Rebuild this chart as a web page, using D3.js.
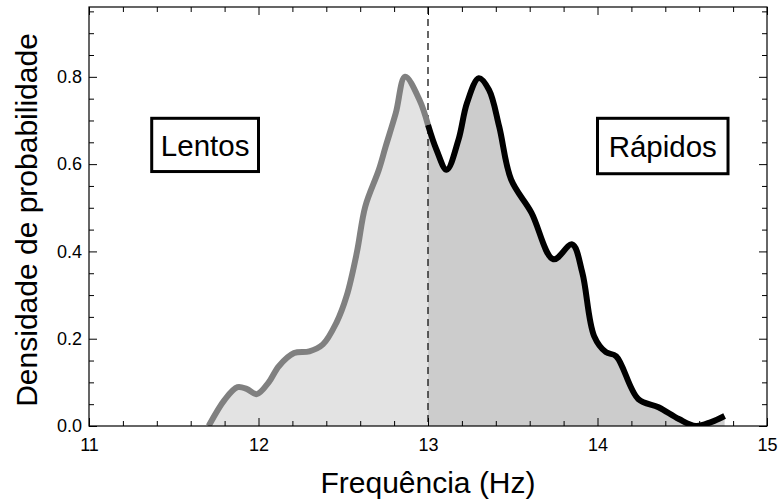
<!DOCTYPE html>
<html>
<head>
<meta charset="utf-8">
<script src="https://cdnjs.cloudflare.com/ajax/libs/d3/7.8.5/d3.min.js"></script>
<style>
  body { margin: 0; background: #fff; }
  svg { display: block; font-family: "Liberation Sans", Arial, sans-serif; }
</style>
</head>
<body>
<div id="chart"></div>
<script>
// density estimate, slow part (up to the 13 Hz cut)
const freqLentos = [11.706, 11.80, 11.876, 11.93, 11.99, 12.06, 12.12, 12.21, 12.30, 12.38, 12.46, 12.52, 12.58, 12.63, 12.71, 12.75, 12.81, 12.865, 12.95, 13.0];
const densLentos = [0.0, 0.060, 0.089, 0.085, 0.073, 0.100, 0.137, 0.167, 0.171, 0.187, 0.237, 0.298, 0.397, 0.503, 0.587, 0.640, 0.717, 0.800, 0.747, 0.690];

// fast part (from 13 Hz on)
const freqRapidos = [13.0, 13.05, 13.11, 13.18, 13.23, 13.30, 13.36, 13.42, 13.49, 13.61, 13.74, 13.85, 13.91, 13.98, 14.05, 14.11, 14.24, 14.36, 14.48, 14.58, 14.67, 14.75];
const densRapidos = [0.690, 0.633, 0.587, 0.656, 0.740, 0.797, 0.770, 0.686, 0.565, 0.489, 0.382, 0.416, 0.352, 0.206, 0.169, 0.160, 0.062, 0.043, 0.016, 0.0, 0.009, 0.023];

const xTicks = [11, 12, 13, 14, 15];
const yTicks = [0.0, 0.2, 0.4, 0.6, 0.8];
const cutFreq = 13;

const W = 778, H = 502;
const margin = { top: 7, right: 11, bottom: 76, left: 89 };
const width = W - margin.left - margin.right;
const height = H - margin.top - margin.bottom;

const svg = d3.select('#chart').append('svg')
  .attr('width', W)
  .attr('height', H);

const g = svg.append('g')
  .attr('transform', `translate(${margin.left},${margin.top})`);

const x = d3.scaleLinear().domain([11, 15]).range([0, width]);
const y = d3.scaleLinear().domain([0, 0.96]).range([height, 0]);

g.append('clipPath').attr('id', 'plot-clip')
  .append('rect').attr('width', width).attr('height', height);

const lentos = freqLentos.map((f, i) => ({ f, d: densLentos[i] }));
const rapidos = freqRapidos.map((f, i) => ({ f, d: densRapidos[i] }));

const curve = d3.curveCatmullRom.alpha(0.5);
const area = d3.area().x(p => x(p.f)).y0(y(0)).y1(p => y(p.d)).curve(curve);
const line = d3.line().x(p => x(p.f)).y(p => y(p.d)).curve(curve);

const plot = g.append('g').attr('clip-path', 'url(#plot-clip)');

plot.append('path').datum(lentos).attr('d', area).style('fill', '#e3e3e3');
plot.append('path').datum(rapidos).attr('d', area).style('fill', '#cccccc');

// dashed cut line
plot.append('line')
  .attr('x1', x(cutFreq)).attr('x2', x(cutFreq))
  .attr('y1', 0).attr('y2', height)
  .style('stroke', '#000')
  .style('stroke-width', 1.2)
  .style('stroke-dasharray', '7,5');

plot.append('path').datum(lentos).attr('d', line)
  .style('fill', 'none').style('stroke', '#808080').style('stroke-width', 6);
plot.append('path').datum(rapidos).attr('d', line)
  .style('fill', 'none').style('stroke', '#000').style('stroke-width', 6);

// axes: ticks inside, mirrored on top / right
const xMinor = d3.range(11, 15.0001, 0.2).filter(v => Math.abs(v - Math.round(v)) > 1e-6);
const yMinor = d3.range(0, 0.96, 0.05).filter(v => Math.abs(v * 5 - Math.round(v * 5)) > 1e-6);

function styleAxis(sel) {
  sel.selectAll('.domain').remove();
  sel.selectAll('.tick line').style('stroke', '#000').style('stroke-width', 1);
  sel.selectAll('text').style('font-size', '18px').style('fill', '#000');
}

g.append('g').attr('transform', `translate(0,${height})`)
  .call(d3.axisBottom(x).tickValues(xTicks).tickSize(-8).tickPadding(12).tickFormat(d3.format('d')))
  .call(styleAxis);
g.append('g').attr('transform', `translate(0,${height})`)
  .call(d3.axisBottom(x).tickValues(xMinor).tickSize(-5).tickFormat(''))
  .call(styleAxis);
g.append('g')
  .call(d3.axisTop(x).tickValues(xTicks).tickSize(-8).tickFormat(''))
  .call(styleAxis);
g.append('g')
  .call(d3.axisTop(x).tickValues(xMinor).tickSize(-5).tickFormat(''))
  .call(styleAxis);

g.append('g')
  .call(d3.axisLeft(y).tickValues(yTicks).tickSize(-8).tickPadding(7).tickFormat(d3.format('.1f')))
  .call(styleAxis);
g.append('g')
  .call(d3.axisLeft(y).tickValues(yMinor).tickSize(-5).tickFormat(''))
  .call(styleAxis);
g.append('g').attr('transform', `translate(${width},0)`)
  .call(d3.axisRight(y).tickValues(yTicks).tickSize(-8).tickFormat(''))
  .call(styleAxis);
g.append('g').attr('transform', `translate(${width},0)`)
  .call(d3.axisRight(y).tickValues(yMinor).tickSize(-5).tickFormat(''))
  .call(styleAxis);

// frame
g.append('rect')
  .attr('width', width).attr('height', height)
  .style('fill', 'none').style('stroke', '#000').style('stroke-width', 1.2);

// axis titles
svg.append('text')
  .attr('x', 428)
  .attr('y', 493)
  .attr('text-anchor', 'middle')
  .style('font-size', '30px')
  .text('Frequência (Hz)');

svg.append('text')
  .attr('transform', 'translate(37,220) rotate(-90)')
  .attr('text-anchor', 'middle')
  .style('font-size', '30px')
  .text('Densidade de probabilidade');

// group labels in boxes
function boxLabel(x0, x1, y0, y1, label) {
  g.append('rect')
    .attr('x', x0).attr('y', y0)
    .attr('width', x1 - x0).attr('height', y1 - y0)
    .style('fill', '#fff').style('stroke', '#000').style('stroke-width', 3);
  g.append('text')
    .attr('x', (x0 + x1) / 2).attr('y', (y0 + y1) / 2)
    .attr('text-anchor', 'middle')
    .attr('dy', '0.36em')
    .style('font-size', '29.5px')
    .text(label);
}
// box corners in data units of the plot
boxLabel(x(11.37), x(12.0), y(0.705), y(0.583), 'Lentos');
boxLabel(x(14.0), x(14.77), y(0.705), y(0.578), 'Rápidos');
</script>
</body>
</html>
